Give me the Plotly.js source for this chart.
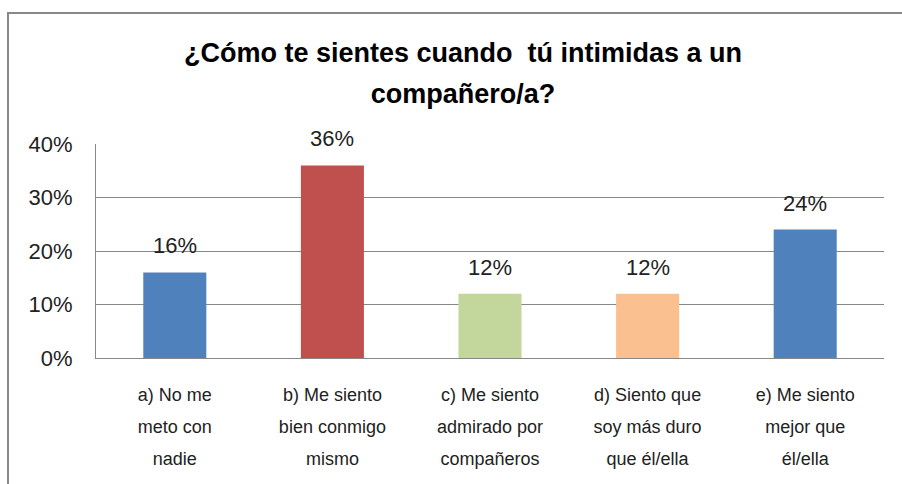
<!DOCTYPE html>
<html>
<head>
<meta charset="utf-8">
<script src="https://cdn.plot.ly/plotly-3.0.1.min.js"></script>
<style>
  html, body { margin: 0; padding: 0; background: #fff; }
  #wrap { position: relative; width: 902px; height: 484px; overflow: hidden; }
  #chart { position: absolute; left: 0; top: 0; width: 902px; height: 484px; }
  #frame { position: absolute; left: 7px; top: 12px; width: 900px; height: 480px;
           border-left: 2px solid #888; border-top: 2px solid #888; pointer-events: none; }
</style>
</head>
<body>
<div id="wrap"><div id="chart"></div><div id="frame"></div></div>
<script>
const titleLines = ["¿Cómo te sientes cuando  tú intimidas a un", "compañero/a?"];
const categories = [
  ["a) No me", "meto con", "nadie"],
  ["b) Me siento", "bien conmigo", "mismo"],
  ["c) Me siento", "admirado por", "compañeros"],
  ["d) Siento que", "soy más duro", "que él/ella"],
  ["e) Me siento", "mejor que", "él/ella"]
];
const values = [0.16, 0.36, 0.12, 0.12, 0.24];
const valueLabels = ["16%", "36%", "12%", "12%", "24%"];
const barColors = ["#4F81BD", "#C0504D", "#C3D69B", "#FAC090", "#4F81BD"];
const yTicks = [0, 0.1, 0.2, 0.3, 0.4];

const FONT = "'Liberation Sans', Arial, sans-serif";
const xKeys = categories.map(c => c.join(" "));
const xText = categories.map(c => c.map(l => "<span style='font-size:18px'>" + l + "</span>").join("<br>"));
const titleText = titleLines.map(l => "<span style='font-size:27px'><b>" + l + "</b></span>").join("<br>");

const trace = {
  type: "bar",
  x: xKeys,
  y: values,
  marker: { color: barColors, line: { width: 0 } },
  hoverinfo: "skip"
};

const annotations = xKeys.map((k, i) => ({
  x: k, y: values[i], xref: "x", yref: "y",
  text: valueLabels[i], showarrow: false,
  yanchor: "bottom", yshift: 12,
  font: { family: FONT, size: 22, color: "#222" }
}));

const layout = {
  width: 902, height: 484,
  margin: { l: 96, r: 18, t: 144, b: 126 },
  paper_bgcolor: "#fff", plot_bgcolor: "#fff",
  showlegend: false,
  bargap: 0.6,
  font: { family: FONT, color: "#222" },
  title: {
    text: titleText,
    font: { family: FONT, size: 31.5, color: "#000" },
    x: 463 / 902, xanchor: "center",
    y: 1 - 62 / 484, yanchor: "top", yref: "container"
  },
  xaxis: {
    type: "category",
    tickmode: "array", tickvals: xKeys, ticktext: xText,
    tickfont: { family: FONT, size: 24.5, color: "#222" },
    showgrid: false, zeroline: false,
    showline: true, linecolor: "#888", linewidth: 1,
    ticks: "", ticklabelstandoff: 13
  },
  yaxis: {
    range: [0, 0.4],
    tickmode: "array", tickvals: yTicks, tickformat: ".0%",
    tickfont: { family: FONT, size: 22, color: "#222" },
    showgrid: true, gridcolor: "#888", gridwidth: 1,
    zeroline: false,
    showline: true, linecolor: "#888", linewidth: 1,
    ticks: "", ticklabelstandoff: 18
  },
  annotations: annotations
};

Plotly.newPlot("chart", [trace], layout, { displayModeBar: false, staticPlot: true });
</script>
</body>
</html>
